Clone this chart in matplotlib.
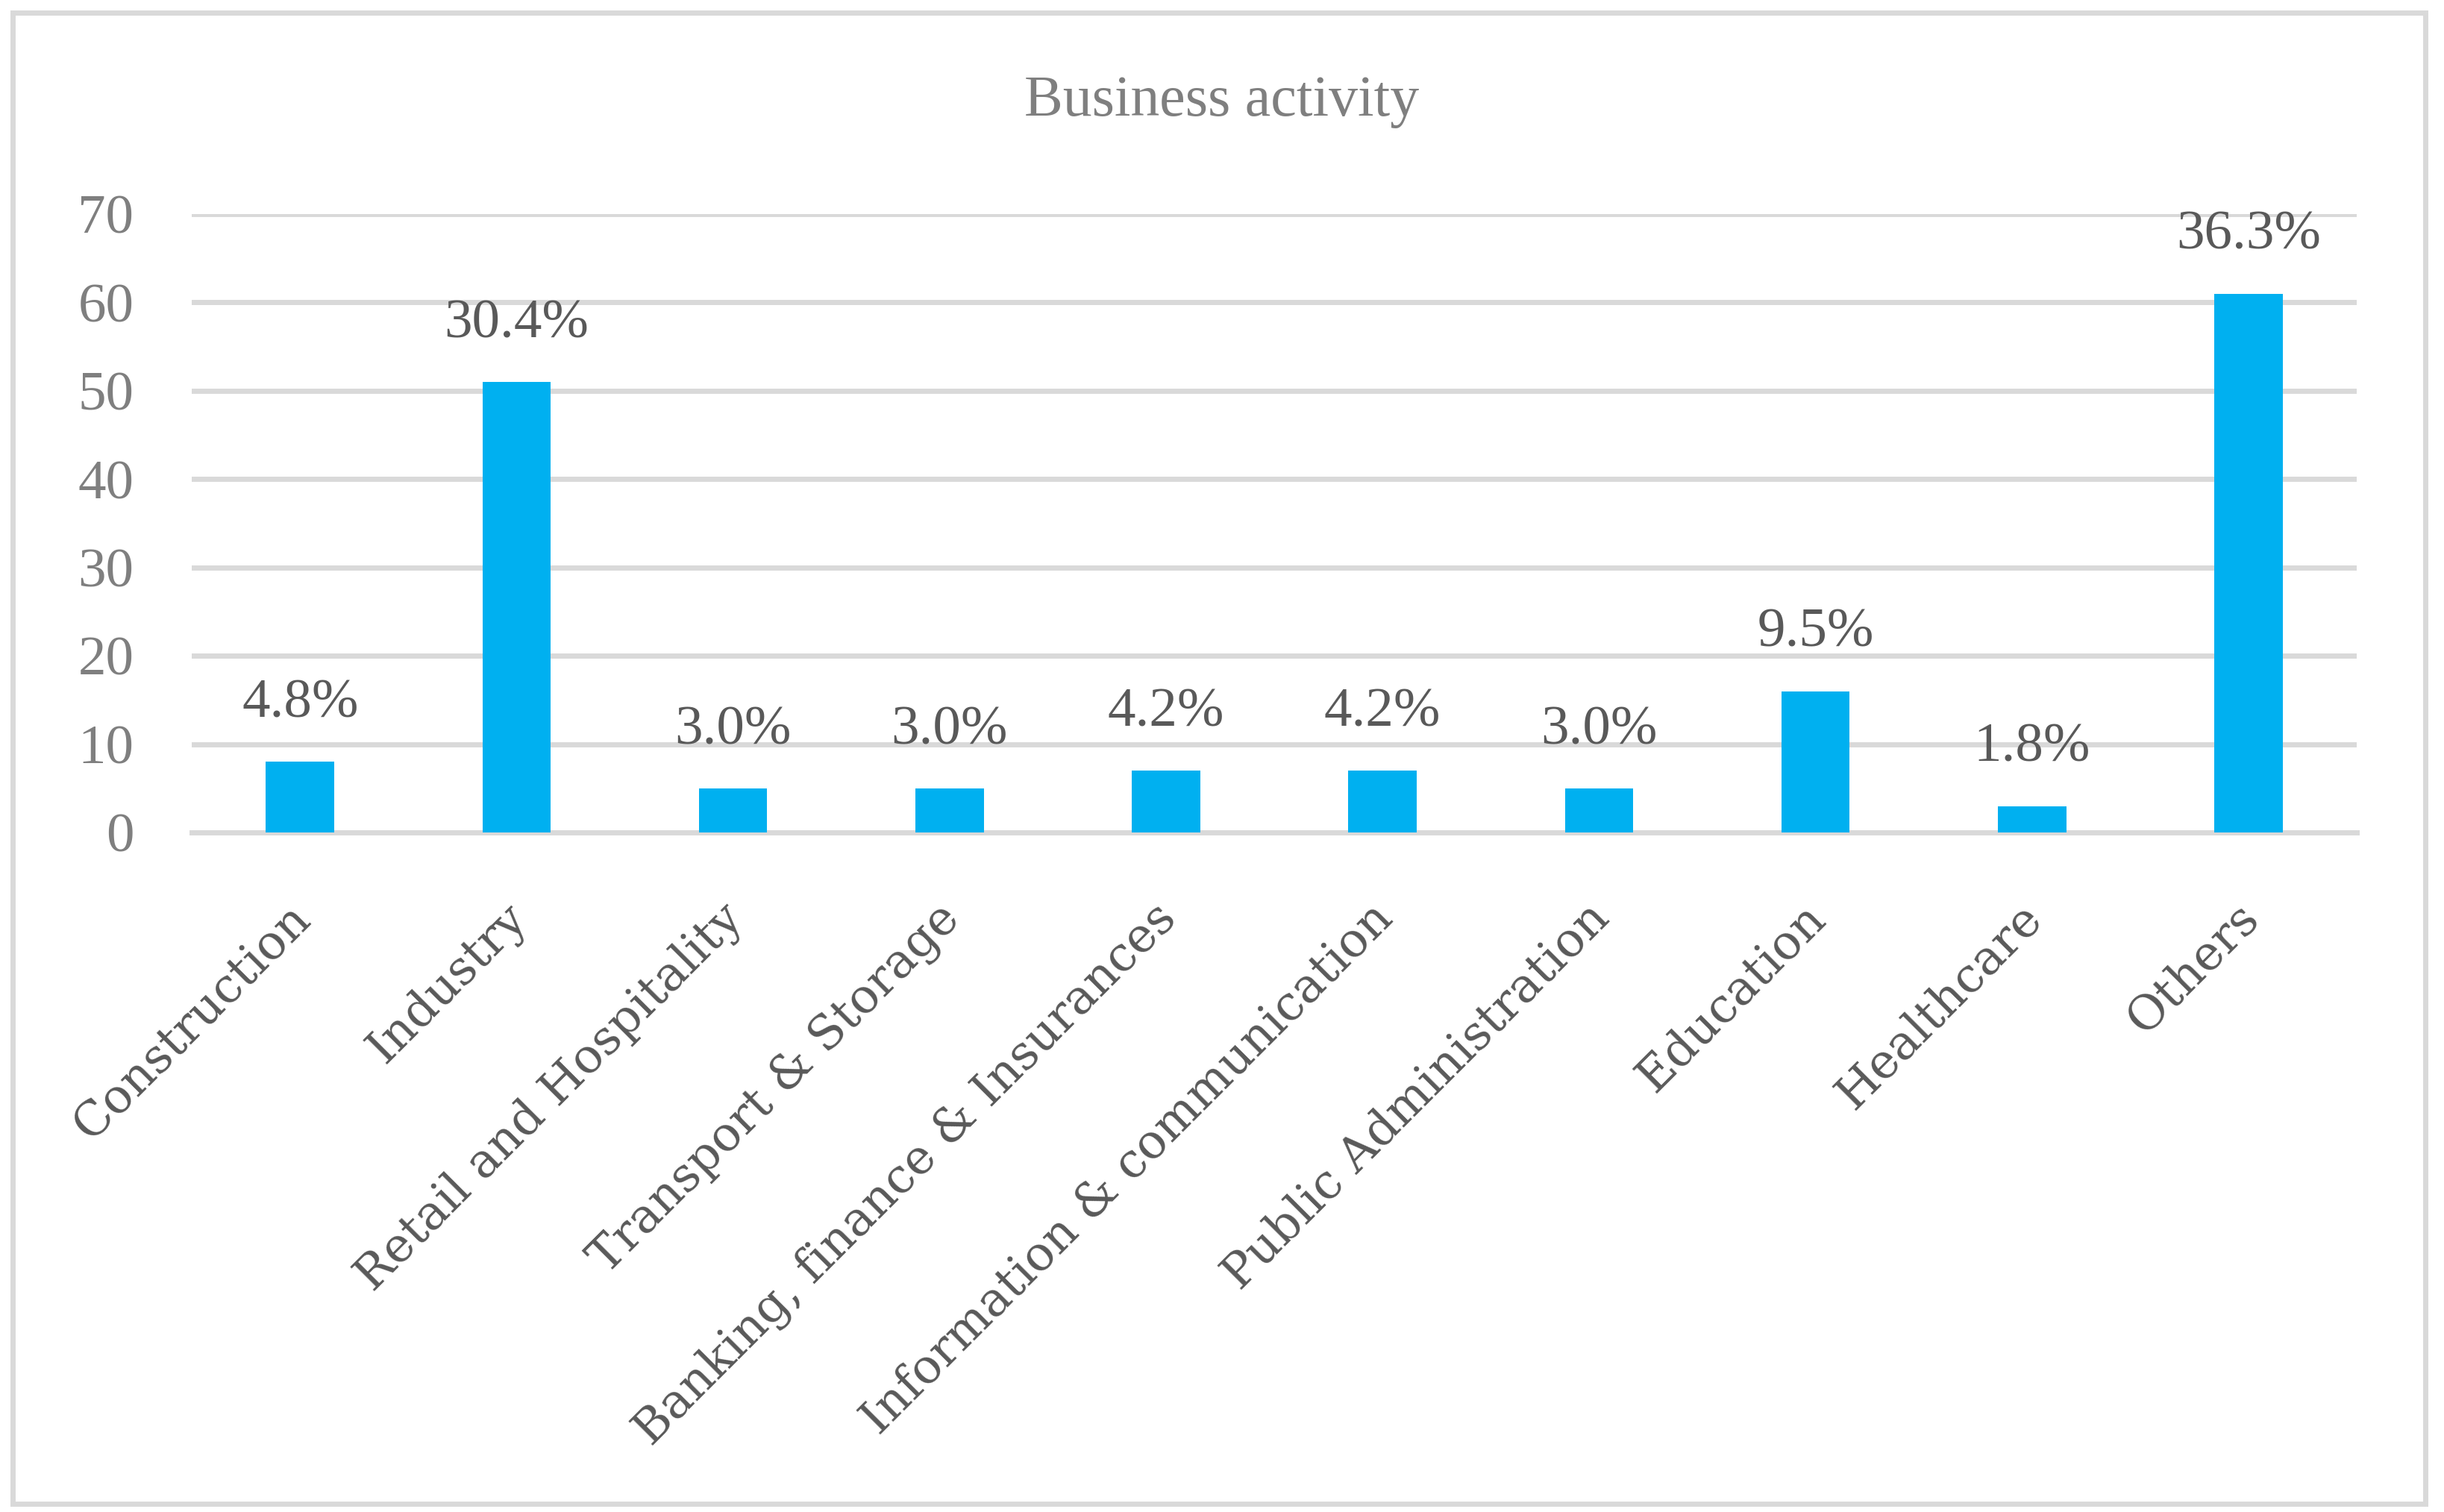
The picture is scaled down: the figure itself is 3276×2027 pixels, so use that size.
import numpy as np
import matplotlib
matplotlib.use("Agg")
import matplotlib.pyplot as plt
from matplotlib.patches import Rectangle
from matplotlib.transforms import ScaledTranslation

categories = ["Construction", "Industry", "Retail and Hospitality", "Transport & Storage",
              "Banking, finance & Insurances", "Information & communication",
              "Public Administration", "Education", "Healthcare", "Others"]
counts = [8, 51, 5, 5, 7, 7, 5, 16, 3, 61]
pct_labels = ["4.8%", "30.4%", "3.0%", "3.0%", "4.2%", "4.2%", "3.0%", "9.5%", "1.8%", "36.3%"]
yticks = [0, 10, 20, 30, 40, 50, 60, 70]

plt.rcParams['font.family'] = ['DejaVu Serif']
grid_col = '#D9D9D9'

fig = plt.figure(figsize=(16.38, 10.135), dpi=200)
ax = fig.add_axes([0.0785, 0.4494, 0.8858, 0.409])

x = np.arange(len(categories))
ax.bar(x, counts, width=0.316, color='#00B0F0', zorder=3)

# percentage labels above the bars
for xi, v, lab in zip(x, counts, pct_labels):
    ax.annotate(lab, (xi, v), xytext=(0, 21.5), textcoords='offset points',
                ha='center', va='baseline', fontsize=27, color='#595959',
                family='Liberation Serif')

ax.set_xlim(-0.5, len(categories) - 0.5)
ax.set_ylim(0, 70)
ax.set_yticks(yticks)
ax.set_yticklabels([str(t) for t in yticks], fontsize=27, color='#7F7F7F',
                   family='Liberation Serif')
ax.yaxis.grid(True, color=grid_col, linewidth=2.5, zorder=0)
ax.tick_params(axis='y', length=0, pad=28)
ax.tick_params(axis='x', length=0, pad=14)
ax.set_xticks(x)
ax.set_xticklabels(categories, rotation=45, ha='right', va='top',
                   rotation_mode='anchor', fontsize=23, color='#595959')
shift = ScaledTranslation(-0.09, -0.225, fig.dpi_scale_trans)
for t in ax.get_xticklabels():
    t.set_transform(t.get_transform() + shift)
for s in ['left', 'right', 'top']:
    ax.spines[s].set_visible(False)
ax.spines['bottom'].set_color(grid_col)
ax.spines['bottom'].set_linewidth(2.5)

fig.text(0.5, 0.933, "Business activity", ha='center', va='center',
         fontsize=28, color='#7F7F7F', family='Liberation Serif')

# outer chart border
fig.patches.append(Rectangle((0.0052, 0.0054), 0.9872, 0.9862, transform=fig.transFigure,
                             fill=False, edgecolor=grid_col, linewidth=2.5))

fig.savefig("out.png", dpi=200, facecolor='white')
